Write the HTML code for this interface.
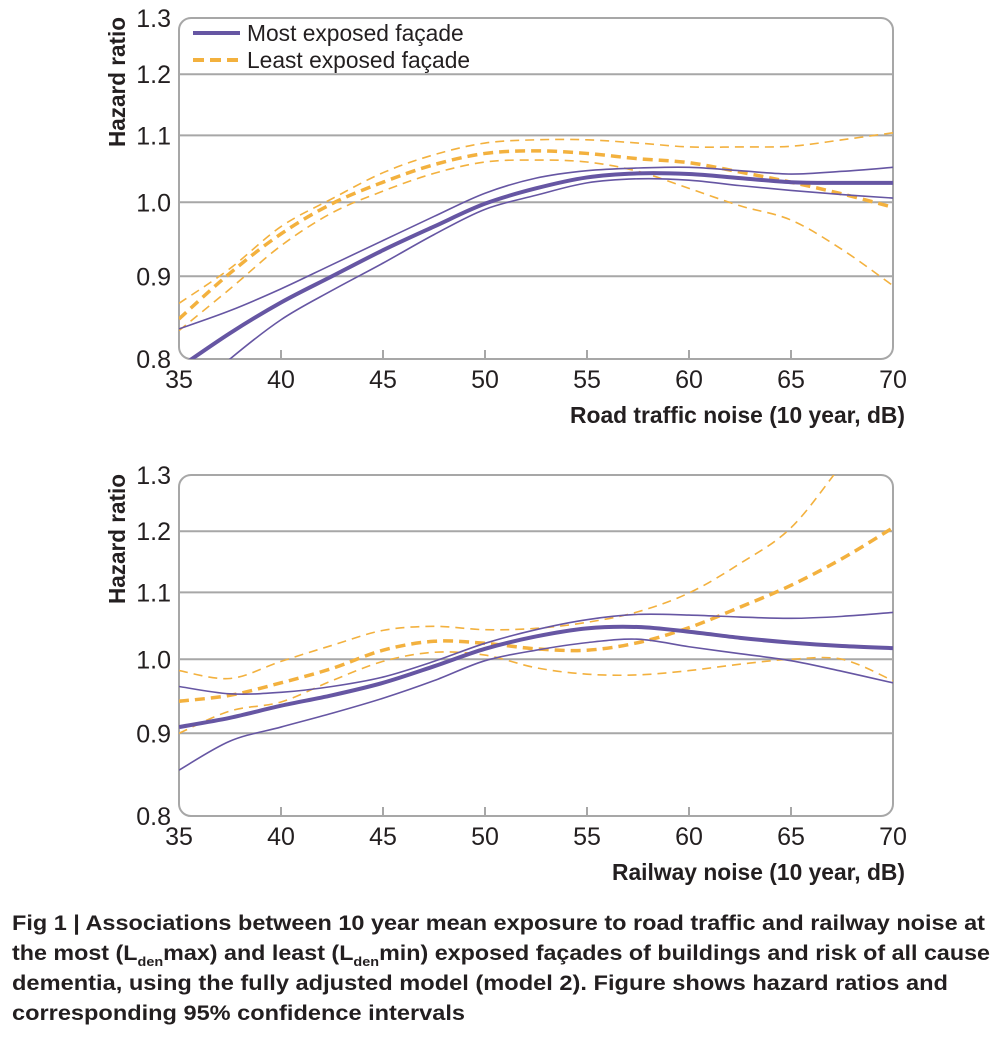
<!DOCTYPE html>
<html><head><meta charset="utf-8">
<style>
html,body{margin:0;padding:0;background:#fff;}
svg{display:block;}
text{font-family:"Liberation Sans",sans-serif;fill:#231f20;}
</style></head>
<body>
<svg id="fig" width="1002" height="1038" viewBox="0 0 1002 1038" xmlns="http://www.w3.org/2000/svg">
<g id="p1"></g>
<g id="p2"></g>
<g>
  <line x1="193" y1="33" x2="240" y2="33" stroke="#6656a3" stroke-width="4"/>
  <text x="247" y="41" font-size="22.8">Most exposed façade</text>
  <line x1="193" y1="60" x2="240" y2="60" stroke="#f3b13e" stroke-width="4" stroke-dasharray="11,6"/>
  <text x="247" y="68" font-size="22.8">Least exposed façade</text>
</g>
<g font-weight="bold" font-size="21">
  <text x="12" y="930" textLength="973" lengthAdjust="spacingAndGlyphs">Fig 1 | Associations between 10 year mean exposure to road traffic and railway noise at</text>
  <text x="12" y="960" textLength="978" lengthAdjust="spacingAndGlyphs">the most (L<tspan font-size="13" dy="6">den</tspan><tspan dy="-6">max) and least (L</tspan><tspan font-size="13" dy="6">den</tspan><tspan dy="-6">min) exposed façades of buildings and risk of all cause</tspan></text>
  <text x="12" y="990" textLength="936" lengthAdjust="spacingAndGlyphs">dementia, using the fully adjusted model (model 2). Figure shows hazard ratios and</text>
  <text x="12" y="1020" textLength="453" lengthAdjust="spacingAndGlyphs">corresponding 95% confidence intervals</text>
</g>
</svg>
<script>
const xVals = [35,37.5,40,42.5,45,47.5,50,52.5,55,57.5,60,62.5,65,67.5,70];
const yTicks = [0.8,0.9,1.0,1.1,1.2,1.3];
const xTicks = [35,40,45,50,55,60,65,70];
// Road traffic panel
const roadMostC = [0.79,0.83,0.867,0.90,0.934,0.966,0.998,1.02,1.036,1.042,1.041,1.035,1.029,1.028,1.028];
const roadMostU = [0.835,0.857,0.884,0.915,0.947,0.98,1.013,1.035,1.046,1.05,1.051,1.046,1.041,1.045,1.051];
const roadMostL = [0.75,0.80,0.846,0.882,0.917,0.955,0.99,1.01,1.028,1.034,1.032,1.024,1.017,1.011,1.006];
const roadLeastC = [0.847,0.904,0.956,0.998,1.029,1.055,1.072,1.076,1.072,1.064,1.058,1.044,1.029,1.012,0.993];
const roadLeastU = [0.866,0.91,0.966,1.005,1.043,1.07,1.088,1.093,1.093,1.088,1.082,1.082,1.083,1.093,1.104];
const roadLeastL = [0.833,0.884,0.94,0.985,1.016,1.042,1.059,1.062,1.059,1.045,1.02,0.995,0.975,0.935,0.888];
// Railway panel
const railMostC = [0.908,0.92,0.936,0.95,0.967,0.99,1.015,1.033,1.045,1.047,1.04,1.031,1.024,1.019,1.016];
const railMostU = [0.962,0.952,0.954,0.962,0.975,0.997,1.023,1.043,1.058,1.066,1.065,1.062,1.06,1.063,1.069];
const railMostL = [0.854,0.89,0.908,0.926,0.946,0.97,0.998,1.013,1.024,1.029,1.018,1.008,0.998,0.983,0.967];
const railLeastC = [0.942,0.95,0.967,0.987,1.013,1.026,1.023,1.015,1.013,1.024,1.046,1.077,1.111,1.154,1.206];
const railLeastU = [0.984,0.973,0.997,1.02,1.042,1.048,1.043,1.045,1.054,1.07,1.099,1.146,1.206,1.32,1.45];
const railLeastL = [0.90,0.929,0.941,0.97,0.997,1.01,1.006,0.988,0.979,0.978,0.984,0.993,1.0,1.0,0.97];

const NS = 'http://www.w3.org/2000/svg';
const X0 = 179, X1 = 893, H = 341;
function mk(tag, attrs, parent){ const e=document.createElementNS(NS,tag); for(const k in attrs) e.setAttribute(k,attrs[k]); parent.appendChild(e); return e; }
function xs(v){ return X0 + (v-35)/(70-35)*(X1-X0); }

function panel(g, top, id, title, titleLen, series){
  const bottom = top + H;
  const ys = v => bottom - (Math.log(v/0.8)/Math.log(1.3/0.8))*H;
  const cp = mk('clipPath',{id:'clip'+id},g);
  mk('rect',{x:X0,y:top,width:X1-X0,height:H,rx:12},cp);
  yTicks.forEach(t=>{
    if(t>0.8 && t<1.3){
      const l = mk('line',{x1:X0,x2:X1,y1:ys(t),y2:ys(t),stroke:'#a7a7a7','stroke-width':2},g);
      
      
    }
    const tx = mk('text',{x:171,y:ys(t)+9,'text-anchor':'end','font-size':25},g);
    tx.textContent = t.toFixed(1);
    
    
  });
  xTicks.forEach(t=>{
    if(t>35 && t<70){
      const l = mk('line',{x1:xs(t),x2:xs(t),y1:bottom,y2:bottom-9,stroke:'#a7a7a7','stroke-width':2},g);
      
      
    }
    const tx = mk('text',{x:xs(t),y:bottom+29,'text-anchor':'middle','font-size':25},g);
    tx.textContent = t;
    
    
  });
  const box = mk('rect',{x:X0,y:top,width:X1-X0,height:H,rx:12,fill:'none',stroke:'#a7a7a7','stroke-width':2},g);
  
  
  const sg = mk('g',{'clip-path':'url(#clip'+id+')'},g);
  series.forEach(s=>{
    const pts = xVals.map((x,i)=>[xs(x), ys(s.v[i])]);
    let d = 'M'+pts[0][0]+','+pts[0][1];
    for(let i=0;i<pts.length-1;i++){
      const p0=pts[Math.max(0,i-1)], p1=pts[i], p2=pts[i+1], p3=pts[Math.min(pts.length-1,i+2)];
      const c1=[p1[0]+(p2[0]-p0[0])/6, p1[1]+(p2[1]-p0[1])/6];
      const c2=[p2[0]-(p3[0]-p1[0])/6, p2[1]-(p3[1]-p1[1])/6];
      d += ' C'+c1[0]+','+c1[1]+' '+c2[0]+','+c2[1]+' '+p2[0]+','+p2[1];
    }
    const a = {d:d,fill:'none',stroke:s.c,'stroke-width':s.w};
    if(s.dash) a['stroke-dasharray']=s.dash;
    const p = mk('path',a,sg);
    
    
  });
  const yt = mk('text',{x:0,y:0,'font-size':23,'font-weight':'bold','text-anchor':'middle',textLength:130,lengthAdjust:'spacingAndGlyphs',transform:'translate(125,'+(top+64)+') rotate(-90)'},g);
  yt.textContent = 'Hazard ratio';
  
  
  const xt = mk('text',{x:905-titleLen,y:bottom+64,'font-size':23,'font-weight':'bold',textLength:titleLen,lengthAdjust:'spacingAndGlyphs'},g);
  xt.textContent = title;
  
  
}
const P='#6656a3', O='#f3b13e';
panel(document.getElementById('p1'), 18, 'a', 'Road traffic noise (10 year, dB)', 335, [
  {v:roadLeastU,c:O,w:1.6,dash:'9,6',name:'least-exposed-upper-ci'},
  {v:roadLeastL,c:O,w:1.6,dash:'9,6',name:'least-exposed-lower-ci'},
  {v:roadLeastC,c:O,w:3.5,dash:'10,6',name:'least-exposed-line'},
  {v:roadMostU,c:P,w:1.6,name:'most-exposed-upper-ci'},
  {v:roadMostL,c:P,w:1.6,name:'most-exposed-lower-ci'},
  {v:roadMostC,c:P,w:4,name:'most-exposed-line'}
]);
panel(document.getElementById('p2'), 475, 'b', 'Railway noise (10 year, dB)', 293, [
  {v:railLeastU,c:O,w:1.6,dash:'9,6',name:'least-exposed-upper-ci'},
  {v:railLeastL,c:O,w:1.6,dash:'9,6',name:'least-exposed-lower-ci'},
  {v:railLeastC,c:O,w:3.5,dash:'10,6',name:'least-exposed-line'},
  {v:railMostU,c:P,w:1.6,name:'most-exposed-upper-ci'},
  {v:railMostL,c:P,w:1.6,name:'most-exposed-lower-ci'},
  {v:railMostC,c:P,w:4,name:'most-exposed-line'}
]);
</script>
</body></html>
